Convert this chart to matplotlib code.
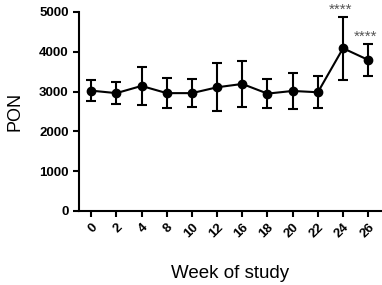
import matplotlib
matplotlib.use("Agg")
import matplotlib.pyplot as plt
import numpy as np

weeks = ["0", "2", "4", "8", "10", "12", "16", "18", "20", "22", "24", "26"]
means = [3023, 2960, 3141, 2960, 2960, 3107, 3191, 2948, 3015, 2982, 4088, 3794]
sds = [272, 268, 485, 377, 343, 606, 582, 372, 443, 397, 787, 398]
sig = ["", "", "", "", "", "", "", "", "", "", "****", "****"]
yticks = [0, 1000, 2000, 3000, 4000, 5000]

plt.rcParams['font.family'] = ['Liberation Sans', 'DejaVu Sans']
fig = plt.figure(figsize=(3.82, 2.85), dpi=100)
ax = fig.add_axes([0.207, 0.26, 0.79, 0.698])
x = np.arange(len(weeks))
ax.errorbar(x, means, yerr=sds, fmt='-o', color='black', ecolor='black',
            lw=1.5, elinewidth=1.5, capsize=3.5, capthick=1.5, markersize=6,
            clip_on=False)
for xi, m, s, t in zip(x, means, sds, sig):
    if t:
        ax.text(xi - 0.1, m + s + 190, t, ha='center', va='center', fontsize=11,
                color='#555555', clip_on=False)
ax.set_xlim(-0.48, 11.5)
ax.set_ylim(0, 5000)
ax.set_yticks(yticks)
ax.set_yticklabels([str(v) for v in yticks], fontsize=9.5, fontweight='bold')
ax.set_xticks(x)
ax.set_xticklabels(weeks, rotation=45, ha='right', rotation_mode='anchor',
                   fontsize=9.5, fontweight='bold')
for side in ['top', 'right']:
    ax.spines[side].set_visible(False)
for side in ['left', 'bottom']:
    ax.spines[side].set_linewidth(1.5)
ax.tick_params(width=1.5, length=4, direction='out')
ax.set_ylabel("PON", fontsize=13, labelpad=11)
ax.set_xlabel("Week of study", fontsize=13.5, labelpad=18)
fig.savefig("out.png", dpi=100)
